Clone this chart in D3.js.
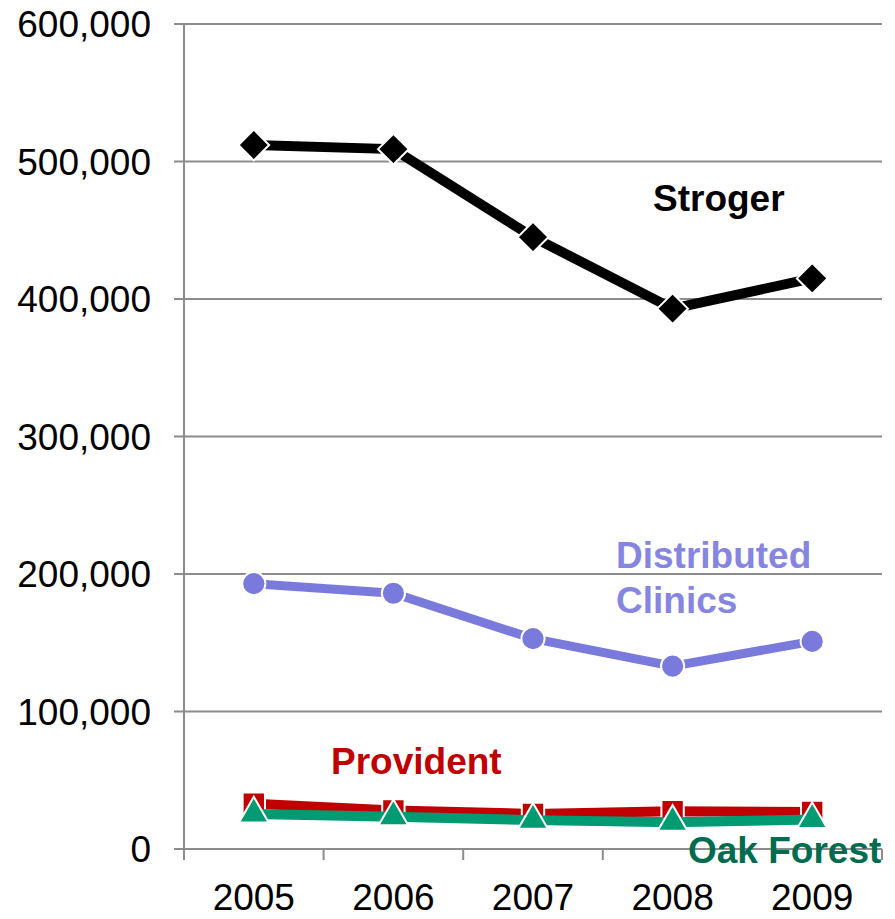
<!DOCTYPE html>
<html>
<head>
<meta charset="utf-8">
<script src="https://cdn.jsdelivr.net/npm/d3@7"></script>
<style>
  body { margin: 0; background: #fff; }
  svg text { font-family: "Liberation Sans", Arial, sans-serif; }
</style>
</head>
<body>
<svg id="main" width="895" height="919"></svg>
<script>
// data
const years = ["2005", "2006", "2007", "2008", "2009"]
const stroger = [512000, 509000, 445000, 393000, 415000]
const clinics = [193000, 186000, 153000, 133000, 151000]
const provident = [33000, 28000, 25500, 27500, 27000]
const oakForest = [25500, 23500, 21000, 19500, 21500]
const yTicks = [0, 100000, 200000, 300000, 400000, 500000, 600000]

let svg = d3.select("#main")

let xScale = d3.scaleBand().domain(years).range([184, 882]).padding(0)
let yScale = d3.scaleLinear().domain([0, 600000]).range([849, 24])
let cx = d => xScale(d) + xScale.bandwidth() / 2

// grid lines
svg.append("g").selectAll("line")
    .data(yTicks)
    .enter().append("line")
    .attr("x1", 174).attr("x2", 882)
    .attr("y1", d => yScale(d)).attr("y2", d => yScale(d))
    .attr("stroke", "#8c8c8c").attr("stroke-width", 2)

// y axis line
svg.append("line")
    .attr("x1", 184).attr("x2", 184)
    .attr("y1", yScale(600000)).attr("y2", yScale(0))
    .attr("stroke", "#8c8c8c").attr("stroke-width", 2)

// x tick marks at category boundaries
svg.append("g").selectAll("line")
    .data(years.concat(["end"]))
    .enter().append("line")
    .attr("x1", d => d == "end" ? xScale.range()[1] : xScale(d))
    .attr("x2", d => d == "end" ? xScale.range()[1] : xScale(d))
    .attr("y1", yScale(0)).attr("y2", yScale(0) + 11)
    .attr("stroke", "#8c8c8c").attr("stroke-width", 2)

// y tick labels
svg.append("g").selectAll("text")
    .data(yTicks)
    .enter().append("text")
    .attr("x", 151)
    .attr("y", d => yScale(d))
    .attr("dy", "0.36em")
    .attr("text-anchor", "end")
    .style("font-size", "37px")
    .text(d => d3.format(",")(d))

// x labels
svg.append("g").selectAll("text")
    .data(years)
    .enter().append("text")
    .attr("x", d => cx(d))
    .attr("y", 910)
    .attr("text-anchor", "middle")
    .style("font-size", "37px")
    .text(d => d)

let line = d3.line().x((d, i) => cx(years[i])).y(d => yScale(d))

function drawSeries(values, color, width, symbol, size) {
    let g = svg.append("g")
    g.append("path")
        .datum(values)
        .attr("d", line)
        .attr("fill", "none")
        .attr("stroke", color)
        .attr("stroke-width", width)
        .attr("stroke-linejoin", "round")
    g.selectAll("path.marker")
        .data(values)
        .enter().append("path")
        .attr("class", "marker")
        .attr("transform", (d, i) => `translate(${cx(years[i])},${yScale(d)})`)
        .attr("d", d3.symbol().type(symbol).size(size))
        .attr("fill", color)
        .attr("stroke", "#fff")
        .attr("stroke-width", 2)
}

drawSeries(stroger, "#000000", 10, d3.symbolDiamond2, 600)
drawSeries(clinics, "#7a7add", 9, d3.symbolCircle, 420)
drawSeries(provident, "#c00000", 10, d3.symbolSquare, 500)
drawSeries(oakForest, "#009b72", 10, d3.symbolTriangle, 380)

// series labels
function label(lines, x, y, color) {
    let t = svg.append("text")
        .attr("x", x).attr("y", y)
        .style("font-size", "37px")
        .style("font-weight", "bold")
        .attr("fill", color)
    lines.forEach((s, i) => {
        t.append("tspan").attr("x", x).attr("dy", i == 0 ? 0 : 45).text(s)
    })
}
label(["Stroger"], 653, 211, "#000000")
label(["Distributed", "Clinics"], 616, 568, "#8686e0")
label(["Provident"], 331, 774, "#c00000")
label(["Oak Forest"], 688, 863, "#006b4e")
</script>
</body>
</html>
